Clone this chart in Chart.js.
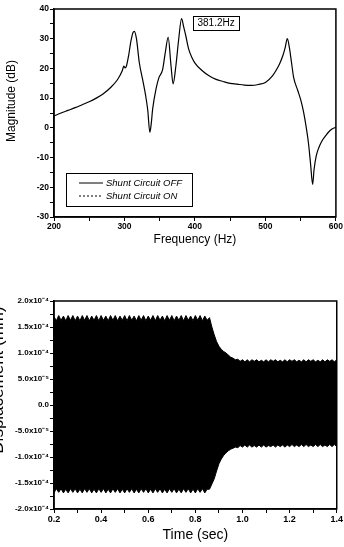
<!DOCTYPE html>
<html>
<head>
<meta charset="utf-8">
<script src="https://cdn.jsdelivr.net/npm/chart.js@4.4.1/dist/chart.umd.min.js"></script>
<style>
  body { margin: 0; background: #fff; width: 344px; height: 547px; overflow: hidden; position: relative; }
  canvas { position: absolute; display: block; }
  #freq-chart { left: 0; top: 0; }
  #disp-chart { left: 0; top: 262px; }
</style>
</head>
<body>
<canvas id="freq-chart" width="344" height="260"></canvas>
<canvas id="disp-chart" width="344" height="285"></canvas>
<script>
// ---- top chart: frequency response ----
const freqHz = [200, 210, 220, 230, 240, 250, 260, 270, 280, 290, 297, 299, 301, 303, 306, 309, 312, 314, 317, 321,
  326, 330, 333, 336, 338, 340, 345, 349, 354, 358, 362, 366, 369, 373, 377, 381, 384, 387, 391, 396,
  400, 410, 420, 430, 440, 450, 460, 470, 480, 490, 500, 510, 515, 520, 525, 528, 531, 534, 537, 540,
  546, 550, 554, 558, 561, 564, 567, 569, 572, 576, 580, 585, 590, 595, 600];
const magOff = [4.0, 5.0, 5.9, 6.8, 7.8, 8.8, 10.0, 11.5, 13.5, 16.2, 19.3, 20.8, 20.2, 21.0, 24.5, 29.0, 32.0, 32.5, 30.0, 22.0,
  16.0, 10.9, 6.0, -1.5, 1.5, 6.4, 13.4, 17.0, 19.5, 25.5, 30.5, 21.0, 14.8, 21.0, 30.0, 36.8, 34.0, 31.0, 26.6, 23.5,
  21.8, 19.3, 17.5, 16.3, 15.6, 15.0, 14.7, 14.4, 14.3, 14.6, 15.3, 17.5, 19.3, 21.5, 24.5, 27.0, 30.0, 27.0, 22.0, 17.0,
  12.5, 9.5, 5.5, 0.0, -5.0, -12.0, -19.0, -14.0, -9.5, -6.5, -4.5, -2.8, -1.3, -0.3, 0.2];
const magOn = []; // dotted trace is not visible in the picture
const freqMajor = [200, 300, 400, 500, 600];
const magMajor = [-30, -20, -10, 0, 10, 20, 30, 40];
const peakLabel = '381.2Hz';

// ---- bottom chart: displacement envelope (units of 1e-4 mm) ----
const timeSec = [0.20, 0.21, 0.22, 0.23, 0.24, 0.25, 0.26, 0.27, 0.28, 0.29, 0.30, 0.31, 0.32, 0.33, 0.34, 0.35, 0.36, 0.37, 0.38, 0.39,
  0.40, 0.41, 0.42, 0.43, 0.44, 0.45, 0.46, 0.47, 0.48, 0.49, 0.50, 0.51, 0.52, 0.53, 0.54, 0.55, 0.56, 0.57, 0.58, 0.59,
  0.60, 0.61, 0.62, 0.63, 0.64, 0.65, 0.66, 0.67, 0.68, 0.69, 0.70, 0.71, 0.72, 0.73, 0.74, 0.75, 0.76, 0.77, 0.78, 0.79,
  0.80, 0.81, 0.82, 0.83, 0.84, 0.85, 0.86, 0.87, 0.88, 0.89, 0.90, 0.91, 0.92, 0.93, 0.94, 0.95, 0.96, 0.97, 0.98, 0.99,
  1.00, 1.01, 1.02, 1.03, 1.04, 1.05, 1.06, 1.07, 1.08, 1.09, 1.10, 1.11, 1.12, 1.13, 1.14, 1.15, 1.16, 1.17, 1.18, 1.19,
  1.20, 1.21, 1.22, 1.23, 1.24, 1.25, 1.26, 1.27, 1.28, 1.29, 1.30, 1.31, 1.32, 1.33, 1.34, 1.35, 1.36, 1.37, 1.38, 1.39, 1.40];
const dispUpper = [1.70, 1.62, 1.72, 1.63, 1.71, 1.62, 1.72, 1.63, 1.72, 1.62, 1.71, 1.62, 1.72, 1.63, 1.72, 1.62, 1.71, 1.63, 1.72, 1.62,
  1.72, 1.63, 1.71, 1.62, 1.72, 1.63, 1.72, 1.62, 1.71, 1.63, 1.72, 1.62, 1.72, 1.63, 1.71, 1.62, 1.72, 1.63, 1.72, 1.62,
  1.71, 1.63, 1.72, 1.62, 1.72, 1.63, 1.71, 1.62, 1.72, 1.63, 1.72, 1.62, 1.71, 1.63, 1.72, 1.62, 1.72, 1.63, 1.71, 1.62,
  1.72, 1.63, 1.72, 1.62, 1.71, 1.63, 1.68, 1.50, 1.35, 1.22, 1.13, 1.07, 1.03, 1.00, 0.96, 0.92, 0.90, 0.87, 0.88, 0.84,
  0.87, 0.83, 0.87, 0.83, 0.87, 0.84, 0.87, 0.83, 0.86, 0.83, 0.87, 0.83, 0.87, 0.84, 0.87, 0.83, 0.86, 0.83, 0.87, 0.83,
  0.87, 0.84, 0.87, 0.83, 0.86, 0.83, 0.87, 0.83, 0.87, 0.84, 0.87, 0.83, 0.86, 0.83, 0.87, 0.83, 0.87, 0.84, 0.87, 0.83, 0.87];
const dispLower = [-1.69, -1.61, -1.68, -1.61, -1.69, -1.62, -1.69, -1.61, -1.68, -1.61, -1.69, -1.62, -1.69, -1.61, -1.68, -1.61, -1.69, -1.62, -1.69, -1.61,
  -1.68, -1.61, -1.69, -1.62, -1.69, -1.61, -1.68, -1.61, -1.69, -1.62, -1.69, -1.61, -1.68, -1.61, -1.69, -1.62, -1.69, -1.61, -1.68, -1.61,
  -1.69, -1.62, -1.69, -1.61, -1.68, -1.61, -1.69, -1.62, -1.69, -1.61, -1.68, -1.61, -1.69, -1.62, -1.69, -1.61, -1.68, -1.61, -1.69, -1.62,
  -1.69, -1.61, -1.68, -1.61, -1.69, -1.62, -1.62, -1.52, -1.42, -1.27, -1.13, -1.04, -0.97, -0.92, -0.88, -0.85, -0.83, -0.81, -0.82, -0.78,
  -0.81, -0.77, -0.81, -0.77, -0.81, -0.78, -0.81, -0.77, -0.81, -0.77, -0.81, -0.78, -0.80, -0.77, -0.81, -0.77, -0.80, -0.77, -0.81, -0.77,
  -0.80, -0.76, -0.80, -0.77, -0.80, -0.76, -0.80, -0.76, -0.80, -0.77, -0.80, -0.76, -0.80, -0.76, -0.80, -0.77, -0.80, -0.76, -0.80, -0.76, -0.80];
const timeMajor = [0.2, 0.4, 0.6, 0.8, 1.0, 1.2, 1.4];
const dispMajor = [-2, -1.5, -1, -0.5, 0, 0.5, 1, 1.5, 2];

const FONT = "'Liberation Sans', Arial, sans-serif";

function isMajor(list, v) {
  return list.some(m => Math.abs(m - v) < 1e-6);
}

function dispLabel(v) {
  if (Math.abs(v) < 1e-9) return '0.0';
  if (Math.abs(v) >= 1) return v.toFixed(1) + 'x10\u207B\u2074';
  return (v * 10).toFixed(1) + 'x10\u207B\u2075';
}

// box around the plot area
const framePlugin = {
  id: 'frame',
  afterDatasetsDraw(chart) {
    const { ctx, chartArea: a } = chart;
    ctx.save();
    ctx.strokeStyle = '#000';
    ctx.lineWidth = 1.5;
    ctx.strokeRect(a.left, a.top, a.right - a.left, a.bottom - a.top);
    ctx.restore();
  }
};

// rotated y title drawn at a fixed place
const yTitlePlugin = {
  id: 'ytitle',
  afterDraw(chart, args, opts) {
    const ctx = chart.ctx;
    ctx.save();
    ctx.translate(opts.x, opts.y);
    ctx.rotate(-Math.PI / 2);
    ctx.font = opts.font;
    ctx.fillStyle = '#000';
    ctx.textAlign = 'center';
    ctx.textBaseline = 'middle';
    ctx.fillText(opts.text, 0, 0);
    ctx.restore();
  }
};

// legend box inside the plot + peak label
const freqDecor = {
  id: 'freqDecor',
  afterDraw(chart) {
    const { ctx, chartArea: a } = chart;
    const xs = chart.scales.x, ys = chart.scales.y;
    ctx.save();
    // legend
    const lx = a.left + 12, ly = a.top + 164, lw = 126, lh = 33;
    ctx.strokeStyle = '#000';
    ctx.lineWidth = 1;
    ctx.strokeRect(lx + 0.5, ly + 0.5, lw, lh);
    ctx.font = "italic 9.5px " + FONT;
    ctx.textBaseline = 'middle';
    ctx.fillStyle = '#000';
    chart.data.datasets.forEach((ds, i) => {
      const yy = ly + 10 + i * 13;
      ctx.beginPath();
      ctx.setLineDash(ds.borderDash || []);
      ctx.lineWidth = 1;
      ctx.moveTo(lx + 13, yy);
      ctx.lineTo(lx + 37, yy);
      ctx.stroke();
      ctx.setLineDash([]);
      ctx.fillText(ds.label, lx + 40, yy);
    });
    // peak annotation
    const cx = xs.getPixelForValue(430), cy = ys.getPixelForValue(35.3);
    ctx.font = "10px " + FONT;
    ctx.textAlign = 'center';
    ctx.fillText(peakLabel, cx, cy + 0.5);
    ctx.lineWidth = 1;
    ctx.strokeRect(Math.round(cx - 23) + 0.5, Math.round(cy - 7) + 0.5, 46, 14);
    ctx.restore();
  }
};

new Chart(document.getElementById('freq-chart'), {
  type: 'line',
  data: {
    datasets: [{
      label: 'Shunt Circuit OFF',
      data: freqHz.map((f, i) => ({ x: f, y: magOff[i] })),
      borderColor: '#000',
      borderWidth: 1.2,
      pointRadius: 0,
      cubicInterpolationMode: 'monotone',
      fill: false
    }, {
      label: 'Shunt Circuit ON',
      data: magOn,
      borderColor: '#000',
      borderWidth: 1,
      borderDash: [2, 2],
      pointRadius: 0,
      fill: false
    }]
  },
  options: {
    responsive: false,
    devicePixelRatio: 1,
    animation: false,
    layout: { padding: { top: 9, right: 6, left: 0, bottom: 0 } },
    plugins: {
      legend: { display: false },
      tooltip: { enabled: false },
      ytitle: { text: 'Magnitude (dB)', x: 12, y: 101, font: "12px " + FONT }
    },
    scales: {
      x: {
        type: 'linear', min: 200, max: 600,
        afterFit(s) { s.height = 43; },
        afterBuildTicks(s) { s.ticks = []; for (let v = 200; v <= 600; v += 50) s.ticks.push({ value: v }); },
        ticks: {
          color: '#000', padding: 1, maxRotation: 0, autoSkip: false,
          font: { family: FONT, size: 8.5, weight: 'bold' },
          callback: v => isMajor(freqMajor, v) ? String(v) : ''
        },
        grid: { drawOnChartArea: false, tickLength: 4, color: '#000', tickWidth: 1 },
        border: { color: '#000', width: 1.5 },
        title: { display: true, text: 'Frequency (Hz)', color: '#000', font: { family: FONT, size: 12 }, padding: { top: 0, bottom: 13 } }
      },
      y: {
        min: -30, max: 40,
        afterFit(s) { s.width = 54; },
        afterBuildTicks(s) { s.ticks = []; for (let v = -30; v <= 40; v += 5) s.ticks.push({ value: v }); },
        ticks: {
          color: '#000', padding: 1, autoSkip: false,
          font: { family: FONT, size: 8.5, weight: 'bold' },
          callback: v => isMajor(magMajor, v) ? String(v) : ''
        },
        grid: { drawOnChartArea: false, tickLength: 4, color: '#000', tickWidth: 1 },
        border: { color: '#000', width: 1.5 }
      }
    }
  },
  plugins: [framePlugin, yTitlePlugin, freqDecor]
});

new Chart(document.getElementById('disp-chart'), {
  type: 'line',
  data: {
    datasets: [{
      label: 'lower',
      data: timeSec.map((t, i) => ({ x: t, y: dispLower[i] })),
      borderColor: '#000',
      borderWidth: 1,
      pointRadius: 0,
      fill: false
    }, {
      label: 'upper',
      data: timeSec.map((t, i) => ({ x: t, y: dispUpper[i] })),
      borderColor: '#000',
      backgroundColor: '#000',
      borderWidth: 1,
      pointRadius: 0,
      fill: '-1'
    }]
  },
  options: {
    responsive: false,
    devicePixelRatio: 1,
    animation: false,
    layout: { padding: { top: 39, right: 6, left: 0, bottom: 0 } },
    plugins: {
      legend: { display: false },
      tooltip: { enabled: false },
      filler: { propagate: false },
      ytitle: { text: 'Displacement (mm)', x: -2, y: 118, font: "17px " + FONT }
    },
    scales: {
      x: {
        type: 'linear', min: 0.2, max: 1.4,
        afterFit(s) { s.height = 38; },
        afterBuildTicks(s) { s.ticks = []; for (let k = 2; k <= 14; k++) s.ticks.push({ value: k / 10 }); },
        ticks: {
          color: '#000', padding: 1, maxRotation: 0, autoSkip: false,
          font: { family: FONT, size: 9, weight: 'bold' },
          callback: v => isMajor(timeMajor, v) ? v.toFixed(1) : ''
        },
        grid: { drawOnChartArea: false, tickLength: 4, color: '#000', tickWidth: 1 },
        border: { color: '#000', width: 1.5 },
        title: { display: true, text: 'Time (sec)', color: '#000', font: { family: FONT, size: 14 }, padding: { top: 0, bottom: 3 } }
      },
      y: {
        min: -2, max: 2,
        afterFit(s) { s.width = 54; },
        afterBuildTicks(s) { s.ticks = []; for (let k = -8; k <= 8; k++) s.ticks.push({ value: k / 4 }); },
        ticks: {
          color: '#000', padding: 1, autoSkip: false,
          font: { family: FONT, size: 8, weight: 'bold' },
          callback: v => isMajor(dispMajor, v) ? dispLabel(v) : ''
        },
        grid: { drawOnChartArea: false, tickLength: 4, color: '#000', tickWidth: 1 },
        border: { color: '#000', width: 1.5 }
      }
    }
  },
  plugins: [framePlugin, yTitlePlugin]
});
</script>
</body>
</html>
